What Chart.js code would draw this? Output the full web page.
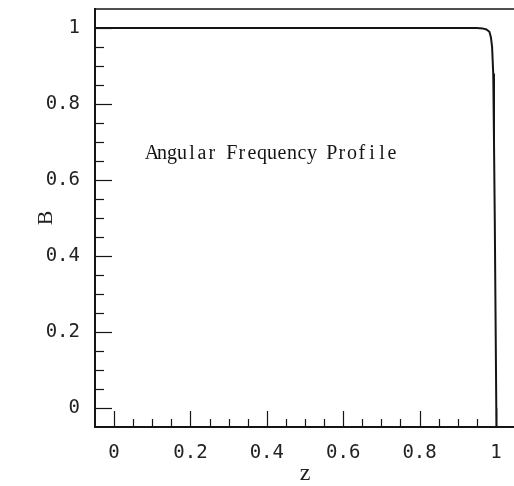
<!DOCTYPE html>
<html>
<head>
<meta charset="utf-8">
<script src="https://cdn.jsdelivr.net/npm/chart.js@4"></script>
<style>
html,body{margin:0;padding:0;background:#fff;overflow:hidden;}
#wrap{width:516px;height:486px;}
</style>
</head>
<body>
<div id="wrap"><canvas id="c" width="516" height="486"></canvas></div>
<script>
// Data
const zValues = [-0.05, 0.90, 0.95, 0.965, 0.975, 0.983, 0.987, 0.990, 0.993, 0.995, 0.997, 0.999, 1.001, 1.0015];
const bValues = [1.0, 1.0, 1.0, 0.999, 0.996, 0.99, 0.975, 0.95, 0.88, 0.70, 0.50, 0.25, 0.0, -0.05];
const xTickLabels = [0, 0.2, 0.4, 0.6, 0.8, 1];
const yTickLabels = [0, 0.2, 0.4, 0.6, 0.8, 1];
const xMinorStep = 0.05;
const yMinorStep = 0.05;
const annotationText = 'Angular Frequency Profile';
const xTitle = 'z';
const yTitle = 'B';

const points = zValues.map((z, i) => ({x: z, y: bValues[i]}));

const inkColor = '#151515';

const framePlugin = {
  id: 'frame',
  afterDraw(chart) {
    const {ctx, chartArea: a, scales: {x, y}} = chart;
    ctx.save();
    ctx.strokeStyle = inkColor;
    // top frame line
    ctx.lineWidth = 1.6;
    ctx.beginPath();
    ctx.moveTo(a.left, a.top);
    ctx.lineTo(a.right, a.top);
    ctx.stroke();
    ctx.beginPath();
    ctx.moveTo(a.right, a.top);
    ctx.lineTo(a.right, a.bottom);
    ctx.stroke();
    // inward ticks
    ctx.lineWidth = 1.2;
    const nx = Math.round((xTickLabels[xTickLabels.length - 1] - xTickLabels[0]) / xMinorStep);
    for (let i = 0; i <= nx; i++) {
      const v = xTickLabels[0] + i * xMinorStep;
      const px = Math.round(x.getPixelForValue(v)) + 0.5;
      const major = i % 4 === 0;
      const len = major ? 16 : 8;
      ctx.beginPath();
      ctx.moveTo(px, a.bottom);
      ctx.lineTo(px, a.bottom - len);
      ctx.stroke();
    }
    const ny = Math.round((yTickLabels[yTickLabels.length - 1] - yTickLabels[0]) / yMinorStep);
    for (let i = 0; i <= ny; i++) {
      const v = yTickLabels[0] + i * yMinorStep;
      const py = Math.round(y.getPixelForValue(v)) + 0.5;
      const major = i % 4 === 0;
      const len = major ? 17 : 9;
      ctx.beginPath();
      ctx.moveTo(a.left, py);
      ctx.lineTo(a.left + len, py);
      ctx.stroke();
    }
    // annotation text, drawn monospaced (10px cells) in a serif face
    ctx.fillStyle = inkColor;
    ctx.font = '20px "Liberation Serif"';
    ctx.textBaseline = 'middle';
    ctx.textAlign = 'center';
    const tx = x.getPixelForValue(0.086);
    const ty = y.getPixelForValue(0.67);
    const cell = 250 / annotationText.length;
    for (let i = 0; i < annotationText.length; i++) {
      ctx.fillText(annotationText[i], tx + cell * (i + 0.5), ty);
    }
    ctx.restore();
  }
};

new Chart(document.getElementById('c'), {
  type: 'line',
  data: {
    datasets: [{
      data: points,
      borderColor: inkColor,
      borderWidth: 2,
      pointRadius: 0,
      tension: 0,
      fill: false
    }]
  },
  options: {
    responsive: false,
    animation: false,
    events: [],
    layout: {padding: {top: 9, right: 1, left: 0, bottom: 0}},
    plugins: {legend: {display: false}, tooltip: {enabled: false}},
    scales: {
      x: {
        type: 'linear',
        min: -0.05,
        max: 1.05,
        grid: {display: false},
        border: {display: true, color: inkColor, width: 2},
        afterBuildTicks(s) { s.ticks = xTickLabels.map(v => ({value: v})); },
        afterFit(s) { s.height = 59; s.paddingLeft = 0; s.paddingRight = 0; },
        ticks: {
          padding: 7,
          maxRotation: 0,
          autoSkip: false,
          color: '#222',
          font: {family: '"DejaVu Sans Mono"', size: 19},
          callback: (v) => String(v)
        },
        title: {
          display: true,
          text: xTitle,
          color: '#222',
          padding: {top: 0, bottom: 0},
          font: {family: '"Liberation Serif"', size: 24, lineHeight: 1.0}
        }
      },
      y: {
        type: 'linear',
        min: -0.05,
        max: 1.05,
        grid: {display: false},
        border: {display: true, color: inkColor, width: 2},
        afterBuildTicks(s) { s.ticks = yTickLabels.map(v => ({value: v})); },
        afterFit(s) { s.width = 95; s.paddingTop = 0; s.paddingBottom = 0; },
        ticks: {
          padding: 7,
          autoSkip: false,
          color: '#222',
          font: {family: '"DejaVu Sans Mono"', size: 19},
          callback: (v) => String(v)
        },
        title: {
          display: true,
          text: yTitle,
          color: '#222',
          padding: {top: 33, bottom: 0},
          font: {family: '"Liberation Serif"', size: 22, lineHeight: 1.2}
        }
      }
    }
  },
  plugins: [framePlugin]
});
</script>
</body>
</html>
